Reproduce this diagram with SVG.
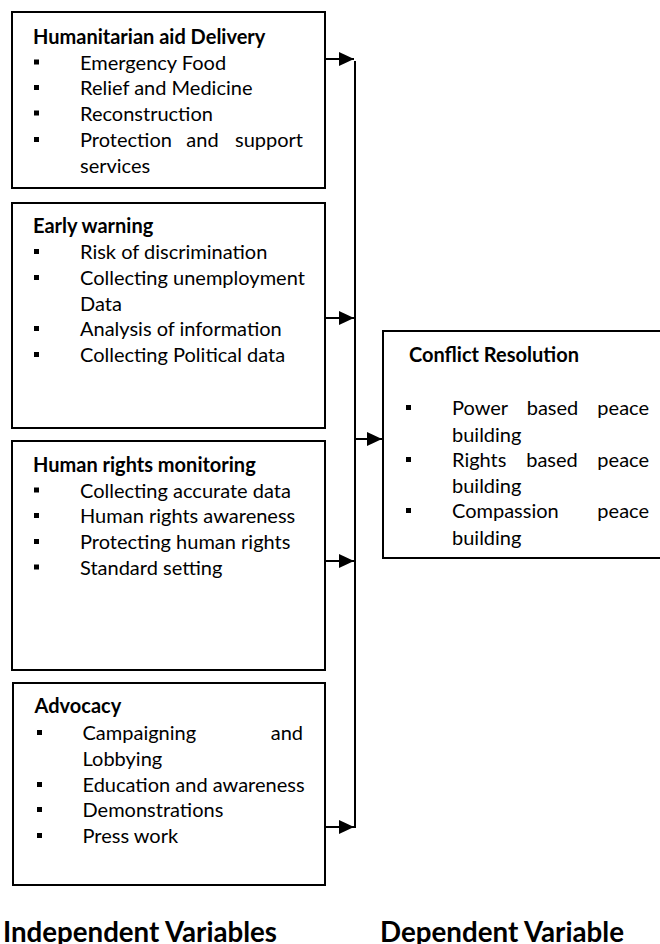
<svg xmlns="http://www.w3.org/2000/svg" xmlns:xlink="http://www.w3.org/1999/xlink" width="660" height="944" viewBox="0 0 660 944">
<style>
.box{fill:#fff;stroke:#000;stroke-width:2}
.h{font-family:Lato,"Liberation Sans",sans-serif;font-weight:bold;font-size:20px;fill:#000}
.t{font-family:Lato,"Liberation Sans",sans-serif;font-size:20px;fill:#000}
.big{font-family:Lato,"Liberation Sans",sans-serif;font-weight:bold;font-size:29px;fill:#000}
.c{fill:none;stroke:#000;stroke-width:2}
</style>
<defs>
<marker id="ah" markerUnits="userSpaceOnUse" markerWidth="15" markerHeight="14" refX="15" refY="7" orient="auto">
<path d="M0,0 L15,7 L0,14 z" fill="#000"/>
</marker>
<rect id="b" width="5" height="5" fill="#000"/>
</defs>
<rect width="660" height="944" fill="#fff"/>

<g id="connectors">
<path class="c" d="M355,61 V828"/>
<path class="c" d="M325,59 H354" marker-end="url(#ah)"/>
<path class="c" d="M325,318 H354" marker-end="url(#ah)"/>
<path class="c" d="M325,561 H354" marker-end="url(#ah)"/>
<path class="c" d="M325,827 H354" marker-end="url(#ah)"/>
<path class="c" d="M355,439 H382" marker-end="url(#ah)"/>
</g>

<g id="humanitarian">
<rect class="box" x="12" y="12" width="313" height="176"/>
<text class="h" x="33" y="44">Humanitarian aid Delivery</text>
<use xlink:href="#b" x="34" y="59.5"/>
<text class="t" x="80" y="69.5">Emergency Food</text>
<use xlink:href="#b" x="34" y="85"/>
<text class="t" x="80" y="95">Relief and Medicine</text>
<use xlink:href="#b" x="34" y="110.5"/>
<text class="t" x="80" y="121">Reconstruction</text>
<use xlink:href="#b" x="34" y="137"/>
<text class="t" x="80" y="147">Protection</text>
<text class="t" x="202.5" y="147" text-anchor="middle">and</text>
<text class="t" x="303" y="147" text-anchor="end">support</text>
<text class="t" x="80" y="172.5">services</text>
</g>

<g id="early-warning">
<rect class="box" x="12" y="203" width="313" height="225"/>
<text class="h" x="33" y="233">Early warning</text>
<use xlink:href="#b" x="34" y="249"/>
<text class="t" x="80" y="259">Risk of discrimination</text>
<use xlink:href="#b" x="34" y="275"/>
<text class="t" x="80" y="285">Collecting unemployment</text>
<text class="t" x="80" y="310.5">Data</text>
<use xlink:href="#b" x="34" y="326"/>
<text class="t" x="80" y="336">Analysis of information</text>
<use xlink:href="#b" x="34" y="352"/>
<text class="t" x="80" y="362">Collecting Political data</text>
</g>

<g id="human-rights">
<rect class="box" x="12" y="441" width="313" height="229"/>
<text class="h" x="33" y="472">Human rights monitoring</text>
<use xlink:href="#b" x="34" y="487.5"/>
<text class="t" x="80" y="497.5">Collecting accurate data</text>
<use xlink:href="#b" x="34" y="513"/>
<text class="t" x="80" y="523">Human rights awareness</text>
<use xlink:href="#b" x="34" y="539"/>
<text class="t" x="80" y="549">Protecting human rights</text>
<use xlink:href="#b" x="34" y="564.5"/>
<text class="t" x="80" y="574.5">Standard setting</text>
</g>

<g id="advocacy">
<rect class="box" x="13" y="683" width="312" height="202"/>
<text class="h" x="34.5" y="713">Advocacy</text>
<use xlink:href="#b" x="37" y="730"/>
<text class="t" x="82.5" y="740">Campaigning</text>
<text class="t" x="303" y="740" text-anchor="end">and</text>
<text class="t" x="82.5" y="766">Lobbying</text>
<use xlink:href="#b" x="37" y="782"/>
<text class="t" x="82.5" y="792">Education and awareness</text>
<use xlink:href="#b" x="37" y="807"/>
<text class="t" x="82.5" y="817">Demonstrations</text>
<use xlink:href="#b" x="37" y="833"/>
<text class="t" x="82.5" y="843">Press work</text>
</g>

<g id="conflict-resolution">
<rect class="box" x="383" y="331" width="300" height="227"/>
<text class="h" x="409" y="362">Conflict Resolution</text>
<use xlink:href="#b" x="406" y="405"/>
<text class="t" x="452" y="415">Power</text>
<text class="t" x="552.5" y="415" text-anchor="middle">based</text>
<text class="t" x="649" y="415" text-anchor="end">peace</text>
<text class="t" x="452" y="442">building</text>
<use xlink:href="#b" x="406" y="457"/>
<text class="t" x="452" y="467">Rights</text>
<text class="t" x="552" y="467" text-anchor="middle">based</text>
<text class="t" x="649" y="467" text-anchor="end">peace</text>
<text class="t" x="452" y="493">building</text>
<use xlink:href="#b" x="406" y="508"/>
<text class="t" x="452" y="518">Compassion</text>
<text class="t" x="649" y="518" text-anchor="end">peace</text>
<text class="t" x="452" y="545">building</text>
</g>

<g id="labels">
<text class="big" x="3" y="942" textLength="274" lengthAdjust="spacingAndGlyphs">Independent Variables</text>
<text class="big" x="380" y="942" textLength="244" lengthAdjust="spacingAndGlyphs">Dependent Variable</text>
</g>
</svg>
